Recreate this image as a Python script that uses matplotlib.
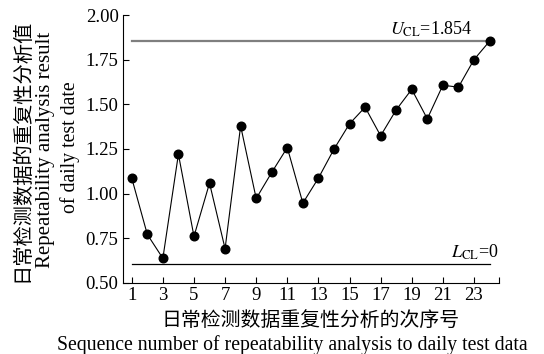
import matplotlib
matplotlib.use("Agg")
import matplotlib.pyplot as plt
import numpy as np

# sequence numbers and repeatability results
seq = np.arange(1, 25)
values = [1.087, 0.772, 0.638, 1.221, 0.761, 1.059, 0.692, 1.379,
          0.973, 1.119, 1.258, 0.947, 1.087, 1.249, 1.391, 1.484,
          1.324, 1.469, 1.584, 1.419, 1.607, 1.596, 1.750, 1.853]
ucl = 1.854
lcl_drawn = 0.605   # the L_CL line sits near the bottom of the axis
x_ticks = list(range(1, 24, 2))
y_ticks = [0.50, 0.75, 1.00, 1.25, 1.50, 1.75, 2.00]

plt.rcParams['font.family'] = ['Liberation Serif', 'Noto Sans CJK SC']
plt.rcParams['mathtext.fontset'] = 'stix'

fig = plt.figure(figsize=(5.44, 3.54), dpi=100)
ax = fig.add_axes([0.2256, 0.2006, 0.917 - 0.2256, 0.9576 - 0.2006])

ax.plot([seq[0], seq[-1]], [ucl, ucl], color='#7f7f7f', lw=1.6)
ax.plot([seq[0], seq[-1]], [lcl_drawn, lcl_drawn], color='black', lw=0.9)
ax.plot(seq, values, color='black', lw=0.8, marker='o', ms=6.2,
        markerfacecolor='black', markeredgecolor='black')

ax.text(22.9, ucl + 0.012, r"$U_{\mathrm{CL}}$=1.854", ha='right', va='bottom',
        fontsize=13)
ax.text(24.55, lcl_drawn + 0.012, r"$L_{\mathrm{CL}}$=0", ha='right', va='bottom',
        fontsize=13)

ax.set_xlim(0.42, 24.6)
ax.set_ylim(0.5, 2.0)
ax.set_xticks(x_ticks)
ax.set_xticks([24.6], minor=True)
ax.set_yticks(y_ticks)
ax.set_yticklabels(["%.2f" % v for v in y_ticks])
ax.tick_params(direction='in', length=4, width=0.8, labelsize=13.5, pad=3)
ax.tick_params(which='minor', direction='in', length=4, width=0.8)
for s in ['top', 'right']:
    ax.spines[s].set_visible(False)
for s in ['left', 'bottom']:
    ax.spines[s].set_linewidth(0.8)

# axis titles, Chinese and English
fig.text(22 / 544, 1 - 150 / 354, "日常检测数据的重复性分析值", rotation=90,
         ha='center', va='center', fontsize=14.6, family='Noto Sans CJK SC',
         fontweight='light')
fig.text(46 / 544, 1 - 150 / 354, "Repeatability analysis result", rotation=90,
         ha='center', va='center', fontsize=15)
fig.text(70 / 544, 1 - 147 / 354, "of daily test date", rotation=90,
         ha='center', va='center', fontsize=14.2)
fig.text(311 / 544, 1 - 320 / 354,
         "日常检测数据重复性分析的次序号", ha='center', va='center',
         fontsize=14.3, family='Noto Sans CJK SC', fontweight='light')
fig.text(292 / 544, 1 - 345 / 354,
         "Sequence number of repeatability analysis to daily test data",
         ha='center', va='center', fontsize=14.2)

fig.savefig("out.png", dpi=100)
